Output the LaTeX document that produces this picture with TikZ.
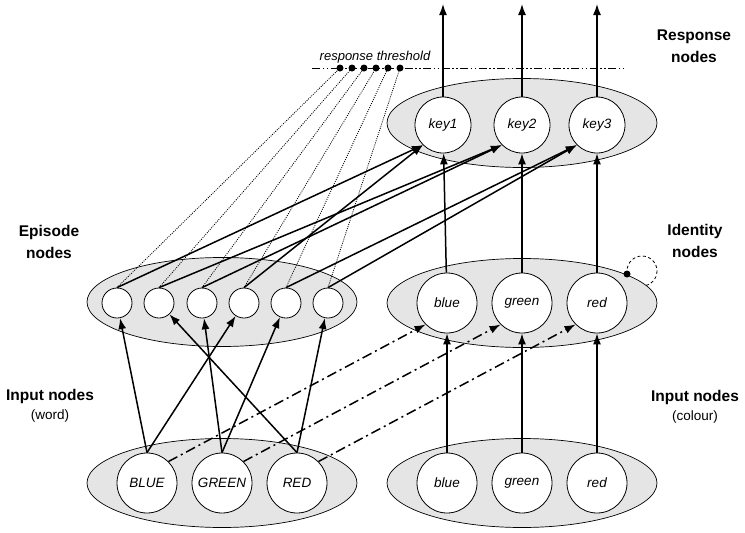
\documentclass[tikz,border=0pt]{standalone}
\usepackage{fontspec}
\setmainfont{Liberation Sans}
\usetikzlibrary{shapes.geometric,arrows.meta}
\begin{document}
\begin{tikzpicture}[x=1pt,y=-1pt,
  grp/.style={ellipse,draw,line width=0.7pt,fill=black!10,minimum width=270pt,minimum height=89pt,inner sep=0pt},
  unit/.style={circle,draw,line width=0.8pt,fill=white,minimum size=60pt,inner sep=0pt,font=\fontsize{13.5}{16}\selectfont\itshape},
  epi/.style={circle,draw,line width=0.8pt,fill=white,minimum size=30pt,inner sep=0pt},
  arr/.style={line width=1.5pt,-{Latex[length=11pt,width=8pt]}},
  dashdot/.style={dash pattern=on 10pt off 4pt on 2pt off 4pt},
  dotline/.style={line width=0.8pt,dash pattern=on 1pt off 1.2pt},
  lab/.style={align=center,font=\fontsize{15.5}{22}\selectfont\bfseries,inner sep=0pt},
  sub/.style={font=\fontsize{13.5}{16}\selectfont,inner sep=0pt}]
\useasboundingbox (0,0) rectangle (745,533);
% self-loop (drawn first, ellipse covers inner part)
\coordinate (lc) at (642,271);
\draw[dash pattern=on 3pt off 2.5pt,line width=0.8pt] (lc) circle[radius=15];
% group ellipses
\node[grp] (RespG) at (522,123) {};
\node[grp] (EpiG) at (222,302) {};
\node[grp] (IdG) at (522,303) {};
\node[grp] (WordG) at (222,483) {};
\node[grp] (ColG) at (522,483) {};
\coordinate (ld) at (627,274);
\fill (ld) circle[radius=3.5];
% units
\node[unit,minimum size=56pt] (k1) at (443,125) {key1};
\node[unit,minimum size=56pt] (k2) at (522,125) {key2};
\node[unit,minimum size=56pt] (k3) at (597,125) {key3};
\node[unit] (ib) at (447,303) {blue};
\node[unit] (ig) at (522,303) {green};
\node[unit] (ir) at (597,303) {red};
\node[unit] (wB) at (147,483) {BLUE};
\node[unit] (wG) at (222,483) {GREEN};
\node[unit] (wR) at (297,483) {RED};
\node[unit] (cb) at (447,483) {blue};
\node[unit] (cg) at (522,483) {green};
\node[unit] (cr) at (597,483) {red};
\node[epi] (e1) at (117,303) {};
\node[epi] (e2) at (159,303) {};
\node[epi] (e3) at (202,303) {};
\node[epi] (e4) at (244,303) {};
\node[epi] (e5) at (286,303) {};
\node[epi] (e6) at (328,303) {};
% threshold
\coordinate (t1) at (312,68);
\coordinate (t2) at (623,68);
\draw[line width=0.8pt,dash pattern=on 8pt off 2.5pt on 1.5pt off 2.5pt on 1.5pt off 2.5pt] (t1) -- (t2);
\node[font=\fontsize{13}{15}\selectfont\itshape,inner sep=0pt] (thr) at (375,57) {response threshold};
\foreach \i/\x in {1/340,2/352,3/364,4/376,5/388,6/400}{
  \coordinate (d\i) at (\x,68);
  \fill (d\i) circle[radius=3.5];
}
% outputs
\coordinate (o1) at (443,4);
\coordinate (o2) at (522,4);
\coordinate (o3) at (597,4);
\draw[arr] (k1) -- (o1);
\draw[arr] (k2) -- (o2);
\draw[arr] (k3) -- (o3);
% identity -> key
\draw[arr] (ib) -- (k1);
\draw[arr] (ig) -- (k2);
\draw[arr] (ir) -- (k3);
% colour input -> identity
\draw[arr] (cb) -- (ib);
\draw[arr] (cg) -- (ig);
\draw[arr] (cr) -- (ir);
% word input -> identity
\draw[arr,dashdot] (wB.45) -- (ib.225);
\draw[arr,dashdot] (wG.45) -- (ig.225);
\draw[arr,dashdot] (wR.45) -- (ir.225);
% word input -> episode
\draw[arr] (wB.north) -- (e1);
\draw[arr] (wB.north) -- (e4);
\draw[arr] (wG.north) -- (e3);
\draw[arr] (wG.north) -- (e5);
\draw[arr] (wR.north) -- (e2);
\draw[arr] (wR.north) -- (e6);
% episode -> key
\draw[arr] (e1.north) -- (k1.225);
\draw[arr] (e4.north) -- (k1.225);
\draw[arr] (e2.north) -- (k2.225);
\draw[arr] (e3.north) -- (k2.225);
\draw[arr] (e5.north) -- (k3.225);
\draw[arr] (e6.north) -- (k3.225);
% episode -> threshold (dotted)
\foreach \i in {1,...,6}{ \draw[dotline] (e\i.north) -- (d\i); }
% labels
\node[lab] (lresp) at (694,46) {Response\\nodes};
\node[lab] (lid) at (695,241) {Identity\\nodes};
\node[lab] (lepi) at (49,242) {Episode\\nodes};
\node[lab] (linw) at (50,396) {Input nodes};
\node[sub] (linws) at (50,416) {(word)};
\node[lab] (linc) at (695,397) {Input nodes};
\node[sub] (lincs) at (695,417) {(colour)};
\end{tikzpicture}
\end{document}
